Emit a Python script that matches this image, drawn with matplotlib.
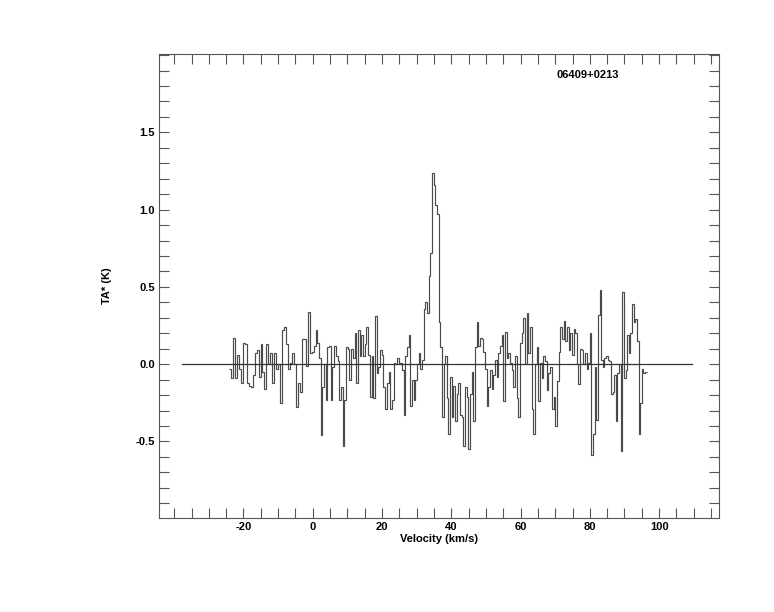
import numpy as np
import matplotlib
matplotlib.use("Agg")
import matplotlib.pyplot as plt
from matplotlib.ticker import MultipleLocator

plt.rcParams['font.family'] = ['Liberation Sans', 'DejaVu Sans']
plt.rcParams['axes.unicode_minus'] = False

# spectrum, in five pieces (velocity edges of each piece)
piece_edges = [-24.2, 0.3, 25.3, 50.2, 75.3, 96.4]

ta1 = [-0.03, -0.09, 0.17, -0.09, 0.06, -0.03, -0.12, 0.14, 0.13, -0.12,
       -0.14, -0.15, -0.07, 0.07, 0.09, -0.08, 0.13, -0.05, -0.16, 0.13,
       0.0, 0.07, -0.12, 0.07, -0.03, 0.0, -0.25, 0.22, 0.24, 0.13,
       -0.03, 0.01, 0.07, 0.0, -0.28, -0.12, -0.18, 0.16, 0.16, -0.01,
       0.34, 0.07, 0.08]
ta2 = [0.12, 0.22, 0.14, 0.04, -0.46, -0.15, 0.0, -0.23, 0.11, 0.12,
       -0.23, -0.02, 0.12, 0.05, 0.02, -0.23, -0.15, -0.53, -0.23, 0.11,
       0.1, -0.1, 0.1, 0.04, 0.2, -0.12, 0.22, 0.05, 0.19, 0.05,
       0.13, 0.24, 0.06, -0.21, 0.05, -0.22, 0.31, -0.06, -0.02, 0.09,
       0.06, -0.15, -0.29, -0.12, -0.05, -0.29, -0.23, 0.01, 0.0, 0.04,
       0.01]
ta3 = [0.01, -0.04, -0.33, 0.05, 0.11, 0.19, -0.27, -0.1, -0.23, -0.1,
       0.0, 0.07, -0.03, 0.03, 0.36, 0.4, 0.33, 0.57, 0.72, 1.24,
       1.16, 1.03, 0.97, 0.27, 0.11, -0.34, 0.0, 0.05, -0.22, -0.45,
       -0.08, -0.34, -0.14, -0.37, -0.19, -0.12, -0.33, -0.34, -0.53, -0.15,
       -0.21, -0.55, -0.19, -0.05, -0.37, 0.11, 0.27, 0.12, 0.17, 0.16,
       0.08, -0.03]
ta4 = [-0.27, -0.15, -0.04, -0.16, -0.07, 0.03, -0.08, 0.07, 0.12, 0.19,
       -0.24, 0.21, 0.04, 0.07, 0.01, -0.04, -0.15, 0.05, -0.22, -0.34,
       0.14, 0.2, 0.3, 0.0, 0.33, 0.07, 0.24, -0.29, -0.45, 0.0,
       0.11, -0.24, 0.01, -0.09, 0.05, 0.02, -0.17, -0.06, -0.02, -0.29,
       -0.21, -0.4, -0.11, 0.08, 0.24, 0.16, 0.28, 0.15, 0.24, 0.09,
       0.2, 0.06]
ta5 = [0.23, 0.2, 0.0, -0.13, 0.1, 0.09, 0.0, 0.07, -0.03, 0.01,
       0.2, -0.59, -0.45, -0.02, -0.36, 0.32, 0.48, 0.03, -0.02, 0.04,
       0.05, 0.03, 0.02, -0.19, -0.18, -0.07, -0.37, -0.06, 0.0, -0.56,
       0.47, -0.09, -0.04, 0.19, 0.07, 0.2, 0.39, 0.27, 0.29, 0.15,
       -0.45, -0.25, -0.03, -0.06, -0.05]

source = "06409+0213"
base_range = [-37.8, 109.6]
xticks = [-20, 0, 20, 40, 60, 80, 100]
yticks = [-0.5, 0.0, 0.5, 1.0, 1.5]

pieces = [ta1, ta2, ta3, ta4, ta5]
ta = np.concatenate(pieces)
edges = [piece_edges[0]]
for k, p in enumerate(pieces):
    e = np.linspace(piece_edges[k], piece_edges[k + 1], len(p) + 1)
    edges.extend(e[1:])
edges = np.array(edges)

fig = plt.figure(figsize=(7.74, 6.12), dpi=100)
ax = fig.add_axes([0.2054, 0.1536, 0.7236, 0.7582])

ax.stairs(ta, edges, baseline=None, color='#4a4a4a', lw=0.85)
ax.plot(base_range, [0, 0], color='#333333', lw=0.9)

ax.set_xlim(-44.4, 117.3)
ax.set_ylim(-0.995, 2.007)

# edge ticks (-40, 2.0) carry no label, like the original
ax.set_xticks(xticks)
ax.set_yticks(yticks)
ax.set_yticklabels(["%.1f" % v for v in yticks])
ax.xaxis.set_minor_locator(MultipleLocator(5))
ax.yaxis.set_minor_locator(MultipleLocator(0.1))
ax.tick_params(which='both', direction='in', length=7, width=0.8,
               top=True, right=True, colors='#555555', labelcolor='black',
               labelsize=8, pad=3)
for lab in ax.get_xticklabels() + ax.get_yticklabels():
    lab.set_fontweight('bold')
for s in ax.spines.values():
    s.set_color('#555555')
    s.set_linewidth(0.8)

ax.set_xlabel("Velocity (km/s)", fontsize=8, fontweight='bold', labelpad=1)
ax.set_ylabel("TA* (K)", fontsize=8, fontweight='bold', labelpad=17)
ax.text(70.5, 1.87, source, fontsize=8, fontweight='bold', va='center')

fig.savefig("out.png", dpi=100)
